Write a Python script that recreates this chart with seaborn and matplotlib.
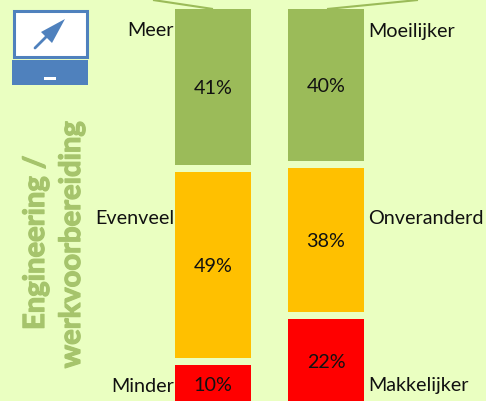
import matplotlib
matplotlib.use("Agg")
import matplotlib.pyplot as plt
from matplotlib.patches import Rectangle, Polygon
import matplotlib.patheffects as pe
import pandas as pd
import seaborn as sns

columns = ["Werk", "Moeite"]
top_labels = ["Meer", "Moeilijker"]
mid_labels = ["Evenveel", "Onveranderd"]
low_labels = ["Minder", "Makkelijker"]
top_values = [41, 40]
mid_values = [49, 38]
low_values = [10, 22]

BG = "#EAFFC1"
GREEN = "#9BBB59"
ORANGE = "#FFC000"
RED = "#FF0000"
BLUE = "#4F81BD"
FONT = "Lato"
PX_PER_UNIT = 3.8
GAP = 7 / PX_PER_UNIT

sns.set_theme(style="white")
plt.rcParams["font.family"] = [FONT, "DejaVu Sans"]

W, H = 486, 401
fig = plt.figure(figsize=(W / 100, H / 100), dpi=100, facecolor=BG)
ax = fig.add_axes([0, 0, 1, 1], facecolor=BG)

mid_bottom = [l + GAP for l in low_values]
top_bottom = [l + m + 2 * GAP for l, m in zip(low_values, mid_values)]
layers = [(low_values, [0, 0], RED), (mid_values, mid_bottom, ORANGE), (top_values, top_bottom, GREEN)]
for vals, bottoms, col in layers:
    df = pd.DataFrame({"c": columns, "v": vals})
    sns.barplot(data=df, x="c", y="v", bottom=bottoms, color=col, saturation=1,
                width=76 / 113, linewidth=0, ax=ax, errorbar=None)
    for i, (v, b) in enumerate(zip(vals, bottoms)):
        ax.text(i, b + v / 2 - 0.45, f"{v}%", ha="center", va="center", fontsize=14.2, color="#111111")

ax.set_xlim((0 - 213) / 113, (W - 213) / 113)
ax.set_ylim((403 - H) / PX_PER_UNIT, 403 / PX_PER_UNIT)
ax.set_axis_off()

# overlay in pixel coordinates for decoration and side labels
ov = fig.add_axes([0, 0, 1, 1], facecolor="none")
ov.set_xlim(0, W)
ov.set_ylim(H, 0)
ov.set_axis_off()

label_style = dict(fontsize=14.2, color="#111111", va="center")
ov.text(174, 31, top_labels[0], ha="right", **label_style)
ov.text(174, 219, mid_labels[0], ha="right", **label_style)
ov.text(174, 386, low_labels[0], ha="right", **label_style)
ov.text(368.5, 31, top_labels[1], ha="left", **label_style)
ov.text(368.5, 219, mid_labels[1], ha="left", **label_style)
ov.text(368.5, 386, low_labels[1], ha="left", **label_style)

ov.plot([153, 213], [0, 9], color=GREEN, lw=1.5, solid_capstyle="butt")
ov.plot([327, 418], [9, 0], color=GREEN, lw=1.5, solid_capstyle="butt")

heavy = [pe.withStroke(linewidth=0.9, foreground="#A6C46C")]
ov.text(36, 243, "Engineering /", rotation=90, ha="center", va="center",
        fontsize=21, fontweight="bold", color="#A6C46C", path_effects=heavy)
ov.text(72, 245, "werkvoorbereiding", rotation=90, ha="center", va="center",
        fontsize=21, fontweight="bold", color="#A6C46C", path_effects=heavy)

# icon
ov.add_patch(Rectangle((13.5, 10.5), 73, 46, fc="white", ec=BLUE, lw=2.2))
ov.add_patch(Rectangle((12, 60), 76, 25, fc=BLUE, ec="none"))
ov.add_patch(Rectangle((44, 77), 12, 3, fc="white", ec="none"))
ov.plot([35, 50], [48, 33], color=BLUE, lw=2)
ov.add_patch(Polygon([(65, 19), (41, 32), (52, 43)], fc=BLUE, ec="none"))

fig.savefig("out.png", dpi=100, facecolor=BG)
